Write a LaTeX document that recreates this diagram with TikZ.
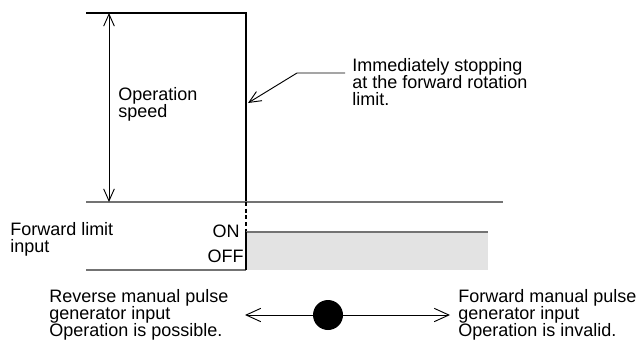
\documentclass[tikz,border=0pt]{standalone}
\usepackage{fontspec}
\setmainfont{Liberation Sans}
\usetikzlibrary{arrows.meta}

\begin{document}
\begin{tikzpicture}[x=0.75pt, y=-0.75pt, font=\fontsize{13.5}{13}\selectfont]
    % Styles
    \tikzstyle{label} = [inner sep=0pt, align=left, anchor=north west]
    \tikzstyle{trace} = [draw=black, line width=0.8pt]
    \tikzstyle{level} = [draw=black!55, line width=1.3pt]
    \tikzstyle{arrow} = [line width=0.7pt, -{Straight Barb[length=9pt,width=8pt]}]
    \tikzstyle{dim} = [line width=0.7pt, {Straight Barb[length=9pt,width=8pt]}-{Straight Barb[length=9pt,width=8pt]}]
    \tikzstyle{bigarrow} = [line width=0.7pt, -{Straight Barb[length=11pt,width=10pt]}]
    \useasboundingbox (0,0) rectangle (639,343);

    % Coordinates
    \coordinate (spdtl) at (86,13);
    \coordinate (spdtr) at (246,13);
    \coordinate (spdbr) at (246,202);
    \coordinate (axisl) at (86,202);
    \coordinate (axisr) at (503,202);
    \coordinate (dimtop) at (109,13);
    \coordinate (dimbot) at (109,202);
    \coordinate (leader) at (345,73);
    \coordinate (bend) at (297,73);
    \coordinate (hit) at (248,103);
    \coordinate (onl) at (246,232);
    \coordinate (onr) at (488,232);
    \coordinate (offl) at (86,270);
    \coordinate (offr) at (246,270);
    \coordinate (offend) at (488,270);
    \coordinate (revtip) at (245,315);
    \coordinate (fwdtip) at (450,315);

    % Signal area
    \fill [black!11] (onl) rectangle (offend);

    % Nodes
    \node [label] (speed) at (118,87) {Operation\\speed};
    \node [label] (stop) at (352,58) {Immediately stopping\\at the forward rotation\\limit.};
    \node [label] (limit) at (10,222) {Forward limit\\input};
    \node [label, anchor=north east] (on) at (240,225) {ON};
    \node [label, anchor=north east] (off) at (244,250) {OFF};
    \node [label] (rev) at (49,289) {Reverse manual pulse\\generator input\\Operation is possible.};
    \node [label] (fwd) at (458,289) {Forward manual pulse\\generator input\\Operation is invalid.};
    \node [circle, fill=black, inner sep=0pt, minimum size=22.5pt] (dot) at (328,315) {};

    % Lines
    \draw [trace] (spdtl) -- (spdtr) -- (spdbr);
    \draw [level] (axisl) -- (axisr);
    \draw [trace, dash pattern=on 3pt off 2pt] (spdbr) -- (onl);
    \draw [level] (offl) -- (offr);
    \draw [level] (onl) -- (onr);
    \draw [trace] (offr) -- (onl);

    % Arrows
    \draw [dim] (dimtop) -- (dimbot);
    \draw [arrow] (leader) -- (bend) -- (hit);
    \draw [bigarrow] (dot) -- (revtip);
    \draw [bigarrow] (dot) -- (fwdtip);
\end{tikzpicture}
\end{document}
